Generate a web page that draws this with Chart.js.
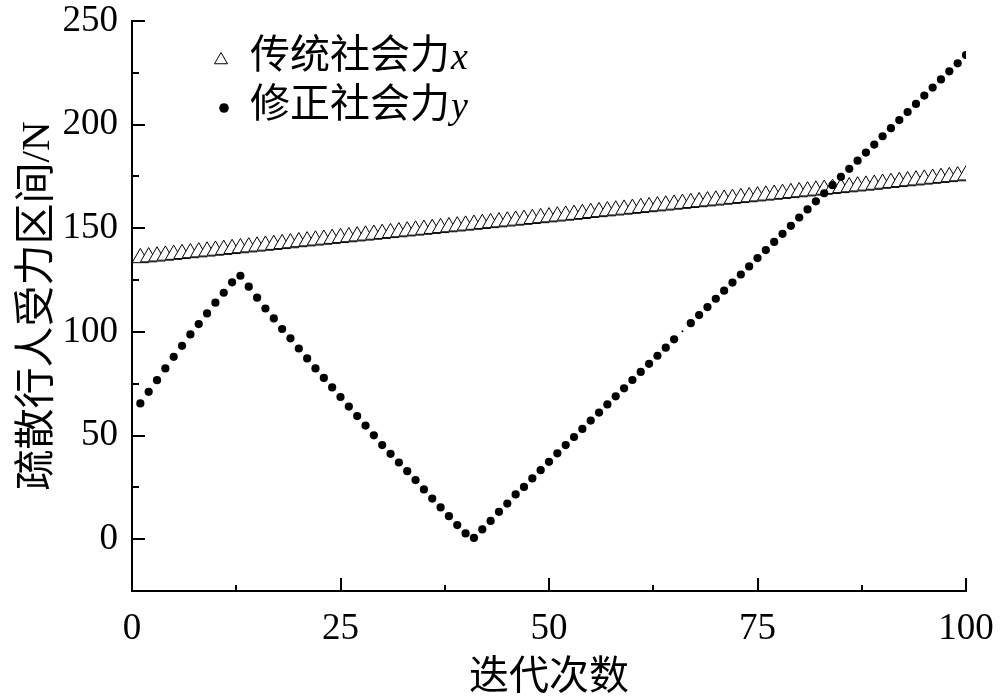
<!DOCTYPE html>
<html>
<head>
<meta charset="utf-8">
<script src="https://cdn.jsdelivr.net/npm/chart.js@4/dist/chart.umd.min.js"></script>
<style>
  html, body { margin: 0; padding: 0; background: #fff; }
  canvas { display: block; }
</style>
</head>
<body>
<canvas id="c" width="1000" height="698"></canvas>
<script>
// ---- data ----
const iterations = [1,2,3,4,5,6,7,8,9,10,11,12,13,14,15,16,17,18,19,20,21,22,23,24,25,26,27,28,29,30,31,32,33,34,35,36,37,38,39,40,41,42,43,44,45,46,47,48,49,50,51,52,53,54,55,56,57,58,59,60,61,62,63,64,65,66,67,68,69,70,71,72,73,74,75,76,77,78,79,80,81,82,83,84,85,86,87,88,89,90,91,92,93,94,95,96,97,98,99,100];

const traditionalForce = [135.7,136.1,136.5,136.9,137.3,137.7,138.1,138.5,138.9,139.3,139.7,140.1,140.5,140.9,141.3,141.7,142.1,142.5,142.9,143.4,143.8,144.2,144.6,145.0,145.4,145.8,146.2,146.6,147.0,147.4,147.8,148.2,148.6,149.0,149.4,149.8,150.2,150.6,151.0,151.4,151.8,152.2,152.6,153.0,153.4,153.8,154.2,154.6,155.0,155.4,155.8,156.2,156.6,157.0,157.5,157.9,158.3,158.7,159.1,159.5,159.9,160.3,160.7,161.1,161.5,161.9,162.3,162.7,163.1,163.5,163.9,164.3,164.7,165.1,165.5,165.9,166.3,166.7,167.1,167.5,167.9,168.3,168.7,169.1,169.5,169.9,170.3,170.7,171.1,171.6,172.0,172.4,172.8,173.2,173.6,174.0,174.4,174.8,175.2,175.6];

const correctedForce = [65.5,71.1,76.7,82.4,88.0,93.3,98.8,103.8,108.9,114.1,118.9,123.9,127.1,121.8,116.5,111.3,106.5,101.4,96.9,92.0,87.2,82.4,77.8,73.2,68.6,64.0,59.4,54.8,50.1,45.4,41.2,37.0,32.8,28.5,24.0,19.6,15.3,11.1,6.8,2.8,0.6,4.7,8.8,13.2,17.2,21.6,25.2,29.3,33.3,37.3,41.4,45.4,49.3,53.2,57.2,61.1,65.0,68.9,72.8,76.8,80.7,84.6,88.5,92.4,96.4,100.3,104.2,108.1,112.0,116.0,119.9,123.8,127.7,131.6,135.6,139.5,143.4,147.3,151.2,155.2,159.1,163.0,166.9,170.8,174.8,178.7,182.6,186.5,190.4,194.4,198.3,202.2,206.1,210.0,214.0,217.9,221.8,225.7,229.6,233.6];

const xTickValues = [0, 25, 50, 75, 100];
const xMinorTickValues = [12.5, 37.5, 62.5, 87.5];
const yTickValues = [0, 50, 100, 150, 200, 250];
const yMinorTickValues = [25, 75, 125, 175, 225];

const seriesNames = ['传统社会力', '修正社会力'];
const seriesVars = ['x', 'y'];
const xTitle = '迭代次数';
const yTitle = '疏散行人受力区间/N';

// ---- chart ----
const SERIF = '"Liberation Serif", "Noto Sans CJK SC", serif';

const innerTicks = {
  id: 'innerTicks',
  afterDraw(chart) {
    const { ctx, chartArea: a, scales: { x, y } } = chart;
    ctx.save();
    ctx.strokeStyle = '#000';
    ctx.lineWidth = 2;
    const line = (x1, y1, x2, y2) => { ctx.beginPath(); ctx.moveTo(x1, y1); ctx.lineTo(x2, y2); ctx.stroke(); };
    xTickValues.forEach(v => { const p = Math.round(x.getPixelForValue(v)); line(p, a.bottom, p, a.bottom - 13); });
    xMinorTickValues.forEach(v => { const p = Math.round(x.getPixelForValue(v)); line(p, a.bottom, p, a.bottom - 6); });
    yTickValues.forEach(v => { const p = Math.round(y.getPixelForValue(v)); line(a.left, p, a.left + 13, p); });
    yMinorTickValues.forEach(v => { const p = Math.round(y.getPixelForValue(v)); line(a.left, p, a.left + 7, p); });
    ctx.restore();
  }
};

const customLegend = {
  id: 'customLegend',
  afterDraw(chart) {
    const { ctx } = chart;
    ctx.save();
    const mx = 221, tx = 250;
    const rows = [57, 106];
    ctx.fillStyle = '#000';
    ctx.strokeStyle = '#000';
    ctx.lineWidth = 1;
    // triangle
    const r = 7.5;
    ctx.beginPath();
    ctx.moveTo(mx, rows[0] + 3 - r);
    ctx.lineTo(mx + r * 0.866, rows[0] + 3 + r / 2);
    ctx.lineTo(mx - r * 0.866, rows[0] + 3 + r / 2);
    ctx.closePath();
    ctx.stroke();
    // dot
    ctx.beginPath();
    ctx.arc(mx + 3, rows[1] + 2, 4.8, 0, Math.PI * 2);
    ctx.fill();
    ctx.textBaseline = 'middle';
    ctx.textAlign = 'left';
    rows.forEach((yy, i) => {
      ctx.font = '40px ' + SERIF;
      ctx.fillText(seriesNames[i], tx, yy);
      const w = ctx.measureText(seriesNames[i]).width;
      ctx.font = 'italic 38px "Liberation Serif", serif';
      ctx.fillText(seriesVars[i], tx + w + 1, yy + 2);
    });
    ctx.restore();
  }
};

new Chart(document.getElementById('c'), {
  type: 'scatter',
  data: {
    datasets: [
      {
        label: seriesNames[0] + seriesVars[0],
        data: iterations.map((it, i) => ({ x: it, y: traditionalForce[i] })),
        pointStyle: 'triangle',
        pointRadius: 9.5,
        pointBorderWidth: 1,
        pointBorderColor: '#000',
        pointBackgroundColor: '#fff',
        showLine: false,
        order: 1
      },
      {
        label: seriesNames[1] + seriesVars[1],
        data: iterations.map((it, i) => ({ x: it, y: correctedForce[i] })),
        pointStyle: 'circle',
        pointRadius: ctx => (ctx.dataIndex === 65 ? 1 : 4.1),
        pointBorderWidth: 0,
        pointBackgroundColor: '#000',
        showLine: false,
        order: 0
      }
    ]
  },
  options: {
    responsive: false,
    animation: false,
    devicePixelRatio: 1,
    layout: { padding: { left: 0, right: 34, top: 21, bottom: 0 } },
    plugins: {
      legend: { display: false },
      tooltip: { enabled: false }
    },
    scales: {
      x: {
        type: 'linear',
        min: 0,
        max: 100,
        afterBuildTicks: s => { s.ticks = xTickValues.map(v => ({ value: v })); },
        afterFit: s => { s.height = 107; s.paddingLeft = 0; s.paddingRight = 0; },
        grid: { display: false, drawTicks: false },
        border: { display: true, width: 2, color: '#000' },
        ticks: {
          color: '#000',
          padding: 16,
          maxRotation: 0,
          autoSkip: false,
          font: { family: SERIF, size: 37 }
        },
        title: {
          display: true,
          text: xTitle,
          color: '#000',
          font: { family: SERIF, size: 40, lineHeight: 1.1 },
          padding: { top: 0, bottom: -2 }
        }
      },
      y: {
        type: 'linear',
        min: -25,
        max: 250,
        afterBuildTicks: s => { s.ticks = yTickValues.map(v => ({ value: v })); },
        afterFit: s => { s.width = 132; s.paddingTop = 0; s.paddingBottom = 0; },
        grid: { display: false, drawTicks: false },
        border: { display: true, width: 2, color: '#000' },
        ticks: {
          color: '#000',
          padding: 14,
          autoSkip: false,
          font: { family: SERIF, size: 37 }
        },
        title: {
          display: true,
          text: yTitle,
          color: '#000',
          font: { family: SERIF, size: 41, lineHeight: 1.2 },
          padding: { top: 14, bottom: 0 }
        }
      }
    }
  },
  plugins: [innerTicks, customLegend]
});
</script>
</body>
</html>
